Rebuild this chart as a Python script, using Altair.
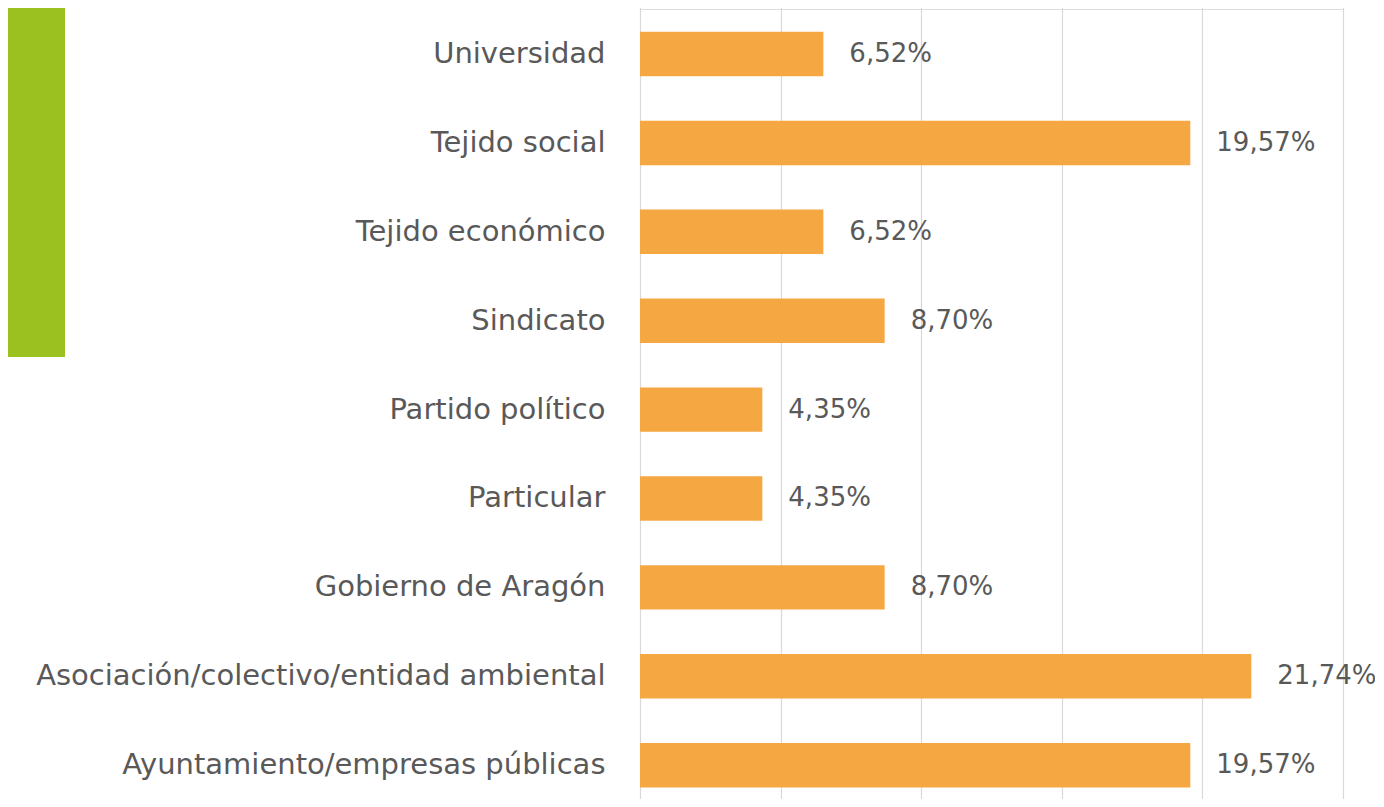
import altair as alt
import pandas as pd

categories = [
    "Universidad",
    "Tejido social",
    "Tejido económico",
    "Sindicato",
    "Partido político",
    "Particular",
    "Gobierno de Aragón",
    "Asociación/colectivo/entidad ambiental",
    "Ayuntamiento/empresas públicas",
]
values = [6.52, 19.57, 6.52, 8.70, 4.35, 4.35, 8.70, 21.74, 19.57]
x_ticks = [0, 5, 10, 15, 20, 25]

df = pd.DataFrame({
    "cat": categories,
    "val": values,
    "label": [f"{v:.2f}".replace(".", ",") + "%" for v in values],
})

FONT = "DejaVu Sans"
TXT = "#595959"
ORANGE = "#F5A742"
GREEN = "#9BC121"

y_enc = alt.Y(
    "cat:N",
    sort=categories,
    scale=alt.Scale(paddingInner=0.5, paddingOuter=0.25, range=[0.6, 800.6]),
    axis=alt.Axis(
        title=None, domain=False, ticks=False, labelPadding=35,
        labelFontSize=29, labelFont=FONT, labelColor=TXT, labelLimit=1000,
    ),
)
x_enc = alt.X(
    "val:Q",
    scale=alt.Scale(domain=[0, 25], nice=False),
    axis=alt.Axis(
        title=None, labels=False, ticks=False, domain=False,
        values=x_ticks, grid=True, gridColor="#d9d9d9", gridWidth=1.2,
    ),
)

base = alt.Chart(df)
bars = base.mark_bar(color=ORANGE).encode(x=x_enc, y=y_enc)
labels = base.mark_text(
    align="left", baseline="middle", dx=26, font=FONT, fontSize=26, color=TXT
).encode(x="val:Q", y=alt.Y("cat:N", sort=categories), text="label:N")

deco = alt.Chart(pd.DataFrame({"a": [0]})).mark_rect(color=GREEN).encode(
    x=alt.value(-632), x2=alt.value(-575), y=alt.value(-1), y2=alt.value(348)
)

chart = alt.layer(deco, bars, labels).properties(
    width=703,
    height=790,
    autosize=alt.AutoSizeParams(type="none"),
    padding={"left": 632, "top": 1, "right": 32, "bottom": 0},
).configure_view(stroke=None).configure(background="white")

chart.save("out.html", embed_options={"renderer": "svg", "actions": False})
